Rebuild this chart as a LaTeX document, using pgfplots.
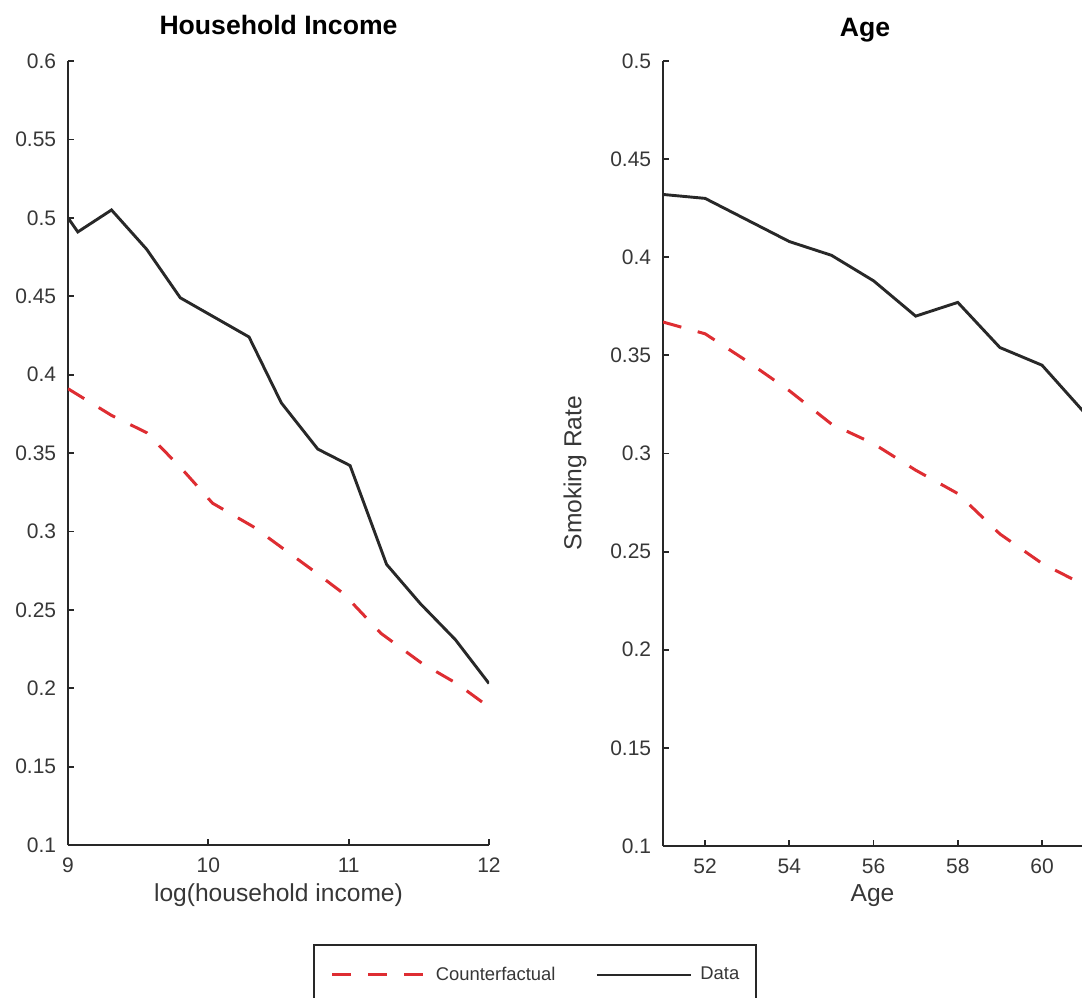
\documentclass[border=0pt]{standalone}
\usepackage{fontspec}
\setmainfont{Liberation Sans}
\usepackage{pgfplots}
\pgfplotsset{compat=1.18}
\definecolor{cfred}{RGB}{222,45,50}
\definecolor{dgray}{RGB}{40,40,40}
\definecolor{tgray}{RGB}{55,55,55}

\pgfplotstableread{
x y
9.00 0.500
9.07 0.491
9.31 0.505
9.56 0.480
9.80 0.449
10.29 0.424
10.52 0.382
10.78 0.3525
11.01 0.342
11.27 0.279
11.51 0.254
11.76 0.231
12.00 0.203
}\incdata
\pgfplotstableread{
x y
9.00 0.391
9.31 0.374
9.56 0.363
9.81 0.340
10.03 0.318
10.32 0.303
10.74 0.2755
10.96 0.2606
11.23 0.235
11.52 0.216
11.77 0.203
12.00 0.188
}\inccf
\pgfplotstableread{
x y
51 0.432
52 0.430
53 0.419
54 0.408
55 0.401
56 0.388
57 0.370
58 0.377
59 0.354
60 0.345
61 0.321
}\agedata
\pgfplotstableread{
x y
51 0.367
52 0.361
53 0.347
54 0.332
55 0.315
56 0.305
57 0.2915
58 0.2796
59 0.259
60 0.244
61 0.233
}\agecf

\pgfplotsset{
  mystyle/.style={
    scale only axis,
    axis lines=left,
    axis line style={-, line width=1.25pt, color=dgray},
    tick align=inside,
    major tick length=3pt,
    tick style={line width=0.9pt, color=dgray},
    tick label style={font=\fontsize{10.5}{12}\selectfont, text=tgray},
    /pgf/number format/assume math mode=true,
    xticklabel style={anchor=center, yshift=-10pt},
    yticklabel style={anchor=east, xshift=-2.4pt},
    label style={font=\fontsize{12.3}{14}\selectfont, text=tgray},
    xlabel style={at={(axis description cs:0.5,0)}, anchor=center, yshift=-25pt},
    every axis title/.style={font=\bfseries\fontsize{13.3}{15}\selectfont, text=black, anchor=center},
    legend image code/.code={\draw[##1] (0pt,0pt) -- (47pt,0pt);},
  },
  cfstyle/.style={color=cfred, line width=1.5pt, dash pattern=on 9.5pt off 8.5pt},
  datastyle/.style={color=dgray, line width=1.45pt},
}

\begin{document}
\begin{tikzpicture}
\begin{axis}[mystyle,
  at={(34pt,-422.5pt)}, anchor=south west,
  width=210.5pt, height=392pt,
  xmin=9, xmax=12, ymin=0.1, ymax=0.6,
  xtick={9,10,11,12},
  ytick={0.1,0.15,0.2,0.25,0.3,0.35,0.4,0.45,0.5,0.55,0.6},
  yticklabels={0.1,0.15,0.2,0.25,0.3,0.35,0.4,0.45,0.5,0.55,0.6},
  xlabel={log(household income)},
  title={Household Income},
  title style={at={(axis description cs:0.5,1)}, yshift=18pt},
  legend style={at={(axis description cs:0.582,-0.1263)}, anchor=north west,
    draw=dgray, line width=0.8pt, fill=white,
    font=\fontsize{9.2}{11}\selectfont, text=tgray,
    inner xsep=8.5pt, inner ysep=11pt, nodes={inner sep=0pt},
    /tikz/every odd column/.append style={column sep=4pt},
    /tikz/every even column/.append style={column sep=20pt}},
  legend columns=2, legend cell align=left,
]
\addplot[cfstyle] table[x=x,y=y] {\inccf};
\addlegendentry{Counterfactual}
\addplot[datastyle] table[x=x,y=y] {\incdata};
\addlegendentry{Data}
\end{axis}

\begin{axis}[mystyle,
  at={(331.5pt,-423pt)}, anchor=south west,
  width=209.5pt, height=392.5pt,
  xmin=51, xmax=60.95, ymin=0.1, ymax=0.5,
  xtick={52,54,56,58,60},
  ytick={0.1,0.15,0.2,0.25,0.3,0.35,0.4,0.45,0.5},
  yticklabels={0.1,0.15,0.2,0.25,0.3,0.35,0.4,0.45,0.5},
  xlabel={Age},
  ylabel={Smoking Rate},
  ylabel style={at={(axis description cs:-0.21,0.475)}, anchor=center},
  title={Age},
  title style={at={(axis description cs:0.482,1)}, yshift=15.5pt},
]
\addplot[cfstyle] table[x=x,y=y] {\agecf};
\addplot[datastyle] table[x=x,y=y] {\agedata};
\end{axis}
\pgfresetboundingbox
\path[use as bounding box] (0pt,0pt) rectangle (541pt,-498.5pt);
\end{tikzpicture}
\end{document}
